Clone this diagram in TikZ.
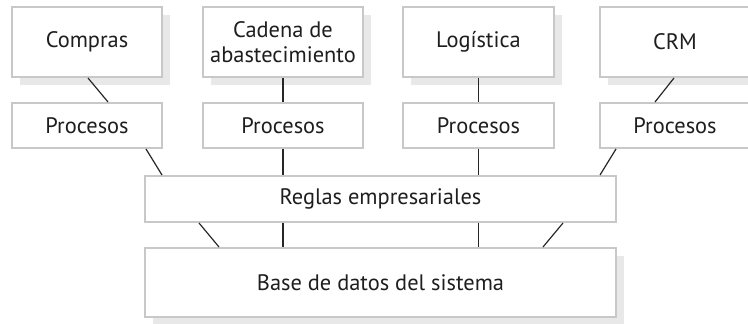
\documentclass[tikz,border=0pt]{standalone}
\usepackage{fontspec}
\setmainfont{PT Sans}
\usetikzlibrary{calc,shadows}

\definecolor{boxline}{HTML}{C8C8C8}
\definecolor{boxshade}{HTML}{E8E8E8}
\definecolor{inktext}{HTML}{1E1E1E}

\begin{document}
\begin{tikzpicture}[
    x=0.5pt, y=-0.5pt,
    box/.style={rectangle, draw=boxline, line width=1pt, fill=white, text=inktext, font=\fontsize{11.2}{12.6}\selectfont, align=center, inner sep=0pt},
    topbox/.style={box, minimum height=35pt, drop shadow={shadow xshift=4pt, shadow yshift=-4pt, fill=boxshade, opacity=1}},
    procbox/.style={box, minimum width=75pt, minimum height=22.5pt},
    wide/.style={minimum width=235.5pt},
    link/.style={line width=0.6pt, draw=black!85}
]

\useasboundingbox (0,0) rectangle (748,324);

% Aplicaciones
\node[topbox, minimum width=75pt] (compras) at (87,42) {Compras};
\node[topbox, minimum width=80pt] (cadena) at (283,42) {Cadena de\\abastecimiento};
\node[topbox, minimum width=75.5pt] (logistica) at (478.5,42) {Logística};
\node[topbox, minimum width=75pt] (crm) at (675,42) {CRM};

% Procesos
\node[procbox] (procA) at (87,125.5) {Procesos};
\node[procbox, minimum width=80pt] (procB) at (283,125.5) {Procesos};
\node[procbox, minimum width=75.5pt] (procC) at (478.5,125.5) {Procesos};
\node[procbox] (procD) at (675,125.5) {Procesos};

% Reglas y base de datos
\node[box, wide, minimum height=23pt] (reglas) at (380.5,199) {Reglas empresariales};
\node[box, wide, minimum height=34.5pt, drop shadow={shadow xshift=4pt, shadow yshift=-4pt, fill=boxshade, opacity=1}] (base) at (380.5,282.5) {Base de datos del sistema};

% Conexiones
\draw[link] ($(compras.south)+(1,0)$) -- ($(procA.north)+(21,0)$);
\draw[link] (cadena.south) -- (procB.north);
\draw[link] (logistica.south) -- (logistica.south |- procC.north);
\draw[link] ($(crm.south)+(-1,0)$) -- ($(procD.north)+(-20,0)$);

\draw[link] ($(procA.south east)+(-17,0)$) -- ($(reglas.north west)+(18,0)$);
\draw[link] (procB.south) -- (procB.south |- reglas.north);
\draw[link] (procC.south) -- (procC.south |- reglas.north);
\draw[link] ($(procD.south west)+(17,0)$) -- ($(reglas.north east)+(-17,0)$);

\draw[link] ($(reglas.south west)+(55,0)$) -- ($(base.north west)+(75,0)$);
\draw[link] (procB.south |- reglas.south) -- (procB.south |- base.north);
\draw[link] (procC.south |- reglas.south) -- (procC.south |- base.north);
\draw[link] ($(reglas.south east)+(-54,0)$) -- ($(base.north east)+(-74,0)$);

\end{tikzpicture}
\end{document}
